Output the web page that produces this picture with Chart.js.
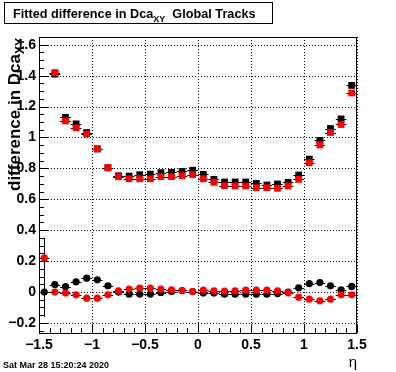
<!DOCTYPE html>
<html>
<head>
<meta charset="utf-8">
<script src="https://cdn.jsdelivr.net/npm/chart.js@4"></script>
<style>
  body { margin: 0; background: #fff; }
</style>
</head>
<body>
<canvas id="myChart_Dca" width="396" height="372"></canvas>
<script>
// bin centres in eta
const etaBins = [-1.45, -1.35, -1.25, -1.15, -1.05, -0.95, -0.85, -0.75, -0.65, -0.55,
  -0.45, -0.35, -0.25, -0.15, -0.05, 0.05, 0.15, 0.25, 0.35, 0.45,
  0.55, 0.65, 0.75, 0.85, 0.95, 1.05, 1.15, 1.25, 1.35, 1.45];
const binHalfWidth = 0.05;

// upper group (squares)
const blackSquares = [null, 1.41, 1.13, 1.088, 1.032, 0.926, 0.804, 0.752, 0.75, 0.759,
  0.763, 0.772, 0.774, 0.78, 0.788, 0.761, 0.729, 0.712, 0.712, 0.712,
  0.703, 0.692, 0.699, 0.71, 0.757, 0.86, 0.981, 1.058, 1.12, 1.337];
const redSquares = [null, 1.42, 1.107, 1.062, 1.023, 0.926, 0.804, 0.746, 0.733, 0.733,
  0.733, 0.747, 0.747, 0.752, 0.76, 0.733, 0.71, 0.688, 0.686, 0.686,
  0.675, 0.675, 0.671, 0.686, 0.729, 0.837, 0.952, 1.032, 1.084, 1.288];

// lower group (circles)
const blackCircles = [0.0, 0.048, 0.035, 0.066, 0.09, 0.079, 0.04, 0.0, -0.014, -0.013,
  -0.013, -0.003, 0.003, 0.01, 0.003, -0.007, -0.007, -0.014, -0.014, -0.014,
  -0.014, -0.014, -0.01, 0.0, 0.027, 0.055, 0.061, 0.04, 0.014, 0.036];
const redCircles = [0.221, 0.0, -0.007, -0.018, -0.04, -0.04, -0.018, 0.008, 0.019, 0.025,
  0.025, 0.019, 0.014, 0.01, 0.003, 0.012, 0.008, 0.006, 0.008, 0.012,
  0.012, 0.012, 0.008, -0.005, -0.033, -0.046, -0.057, -0.046, -0.018, -0.018];

// vertical errors (first bin of the lower group is large)
const blackCircleErr = [0.16, 0.008, 0.008, 0.008, 0.008, 0.008, 0.008, 0.008, 0.008, 0.008,
  0.008, 0.008, 0.008, 0.008, 0.008, 0.008, 0.008, 0.008, 0.008, 0.008,
  0.008, 0.008, 0.008, 0.008, 0.008, 0.008, 0.008, 0.008, 0.008, 0.008];
const redCircleErr = [0.13, 0.008, 0.008, 0.008, 0.008, 0.008, 0.008, 0.008, 0.008, 0.008,
  0.008, 0.008, 0.008, 0.008, 0.008, 0.008, 0.008, 0.008, 0.008, 0.008,
  0.008, 0.008, 0.008, 0.008, 0.008, 0.008, 0.008, 0.008, 0.008, 0.008];
const squareErr = 0.01;

const xTickValues = [-1.5, -1, -0.5, 0, 0.5, 1, 1.5];
const yTickValues = [-0.2, 0, 0.2, 0.4, 0.6, 0.8, 1, 1.2, 1.4, 1.6];
const xMinorStep = 0.1;
const yMinorStep = 0.05;

const titleMain = "Fitted difference in Dca";
const titleSub = "XY";
const titleRest = "  Global Tracks";
const yTitleMain = "difference in Dca";
const yTitleSub = "XY";
const xTitle = "η";
const dateText = "Sat Mar 28 15:20:24 2020";

function points(values, errs) {
  const out = [];
  values.forEach((v, i) => {
    if (v === null) return;
    out.push({ x: etaBins[i], y: v, err: Array.isArray(errs) ? errs[i] : errs });
  });
  return out;
}

function fmt(v) {
  const s = String(Math.round(v * 10) / 10);
  return s.replace("-", "\u2212");
}

const FONT = "'Liberation Sans', Arial, sans-serif";

const errorBars = {
  id: "errorBars",
  beforeDatasetsDraw(chart) {
    const { ctx, scales: { x, y }, chartArea } = chart;
    ctx.save();
    // dotted grid
    ctx.strokeStyle = "#000";
    ctx.lineWidth = 1;
    ctx.setLineDash([1, 2]);
    xTickValues.forEach((v) => {
      const px = Math.round(x.getPixelForValue(v)) + 0.5;
      ctx.beginPath();
      ctx.moveTo(px, chartArea.top);
      ctx.lineTo(px, chartArea.bottom);
      ctx.stroke();
    });
    yTickValues.forEach((v) => {
      const py = Math.round(y.getPixelForValue(v)) + 0.5;
      ctx.beginPath();
      ctx.moveTo(chartArea.left, py);
      ctx.lineTo(chartArea.right, py);
      ctx.stroke();
    });
    ctx.setLineDash([]);

    // frame
    ctx.strokeRect(chartArea.left + 0.5, chartArea.top + 0.5,
      chartArea.right - chartArea.left - 1, chartArea.bottom - chartArea.top);

    // tick marks
    ctx.beginPath();
    for (let v = x.min; v <= x.max + 1e-9; v += xMinorStep) {
      const major = xTickValues.some((t) => Math.abs(t - v) < 1e-6);
      const px = Math.round(x.getPixelForValue(v)) + 0.5;
      ctx.moveTo(px, chartArea.bottom);
      ctx.lineTo(px, chartArea.bottom - (major ? 9 : 5));
    }
    const yStart = Math.ceil(y.min / yMinorStep) * yMinorStep;
    for (let v = yStart; v <= y.max + 1e-9; v += yMinorStep) {
      const major = yTickValues.some((t) => Math.abs(t - v) < 1e-6);
      const py = Math.round(y.getPixelForValue(v)) + 0.5;
      ctx.moveTo(chartArea.left, py);
      ctx.lineTo(chartArea.left + (major ? 10 : 5), py);
    }
    ctx.stroke();

    // error bars
    chart.data.datasets.forEach((ds) => {
      ds.data.forEach((p) => {
        const px = Math.round(x.getPixelForValue(p.x)) + 0.5;
        const py = Math.round(y.getPixelForValue(p.y)) + 0.5;
        ctx.beginPath();
        ctx.moveTo(x.getPixelForValue(p.x - binHalfWidth), py);
        ctx.lineTo(x.getPixelForValue(p.x + binHalfWidth), py);
        ctx.moveTo(px, y.getPixelForValue(p.y + p.err));
        ctx.lineTo(px, y.getPixelForValue(p.y - p.err));
        ctx.stroke();
      });
    });
    ctx.restore();
  },
  afterDraw(chart) {
    const { ctx } = chart;
    ctx.save();
    ctx.fillStyle = "#000";
    ctx.strokeStyle = "#000";

    // title box
    ctx.lineWidth = 1;
    ctx.strokeRect(4.5, 2.5, 268, 21);
    ctx.textBaseline = "alphabetic";
    ctx.font = "bold 12.7px " + FONT;
    let tx = 13;
    const ty = 18;
    ctx.fillText(titleMain, tx, ty);
    tx += ctx.measureText(titleMain).width;
    ctx.font = "bold 9px " + FONT;
    ctx.fillText(titleSub, tx, ty + 4);
    tx += ctx.measureText(titleSub).width;
    ctx.font = "bold 12.7px " + FONT;
    ctx.fillText(titleRest, tx, ty);

    // y axis title, right aligned at the top of the axis
    ctx.save();
    ctx.translate(20, 38);
    ctx.rotate(-Math.PI / 2);
    ctx.font = "bold 17px " + FONT;
    const wMain = ctx.measureText(yTitleMain).width;
    ctx.font = "bold 12px " + FONT;
    const wSub = ctx.measureText(yTitleSub).width;
    let yx = -(wMain + wSub);
    ctx.font = "bold 17px " + FONT;
    ctx.fillText(yTitleMain, yx, 0);
    ctx.font = "bold 12px " + FONT;
    ctx.fillText(yTitleSub, yx + wMain, 4);
    ctx.restore();

    // x axis title
    ctx.font = "15px " + FONT;
    ctx.textAlign = "right";
    ctx.fillText(xTitle, 357, 367);

    // date stamp
    ctx.textAlign = "left";
    ctx.font = "bold 9px " + FONT;
    ctx.fillText(dateText, 3, 368);
    ctx.restore();
  },
};

const ctx_Dca = document.getElementById("myChart_Dca").getContext("2d");
new Chart(ctx_Dca, {
  type: "scatter",
  data: {
    datasets: [
      {
        label: "red squares",
        data: points(redSquares, squareErr),
        pointStyle: "rect",
        pointRadius: 4.8,
        pointBorderWidth: 0,
        backgroundColor: "#ff0000",
        borderColor: "#ff0000",
        order: 1,
      },
      {
        label: "red circles",
        data: points(redCircles, redCircleErr),
        pointStyle: "circle",
        pointRadius: 3.6,
        pointBorderWidth: 0,
        backgroundColor: "#ff0000",
        borderColor: "#ff0000",
        order: 1,
      },
      {
        label: "black squares",
        data: points(blackSquares, squareErr),
        pointStyle: "rect",
        pointRadius: 4.8,
        pointBorderWidth: 0,
        backgroundColor: "#000000",
        borderColor: "#000000",
        order: 2,
      },
      {
        label: "black circles",
        data: points(blackCircles, blackCircleErr),
        pointStyle: "circle",
        pointRadius: 3.6,
        pointBorderWidth: 0,
        backgroundColor: "#000000",
        borderColor: "#000000",
        order: 2,
      },
    ],
  },
  plugins: [errorBars],
  options: {
    responsive: false,
    animation: false,
    layout: { padding: { top: 37, right: 39, left: 0, bottom: 0 } },
    plugins: {
      legend: { display: false },
      tooltip: { enabled: false },
      title: { display: false },
    },
    scales: {
      x: {
        type: "linear",
        min: -1.5,
        max: 1.5,
        grid: { display: false, drawTicks: false },
        border: { display: false },
        afterFit: (scale) => { scale.height = 39; },
        afterBuildTicks: (scale) => { scale.ticks = xTickValues.map((v) => ({ value: v })); },
        ticks: {
          padding: 4,
          color: "#000",
          font: { family: FONT, size: 14, weight: "bold" },
          callback: (v) => fmt(v),
          autoSkip: false,
          maxRotation: 0,
        },
      },
      y: {
        type: "linear",
        min: -0.265,
        max: 1.65,
        grid: { display: false, drawTicks: false },
        border: { display: false },
        afterFit: (scale) => { scale.width = 39; },
        afterBuildTicks: (scale) => { scale.ticks = yTickValues.map((v) => ({ value: v })); },
        ticks: {
          padding: 3,
          color: "#000",
          font: { family: FONT, size: 14, weight: "bold" },
          callback: (v) => fmt(v),
          autoSkip: false,
        },
      },
    },
  },
});
</script>
</body>
</html>
